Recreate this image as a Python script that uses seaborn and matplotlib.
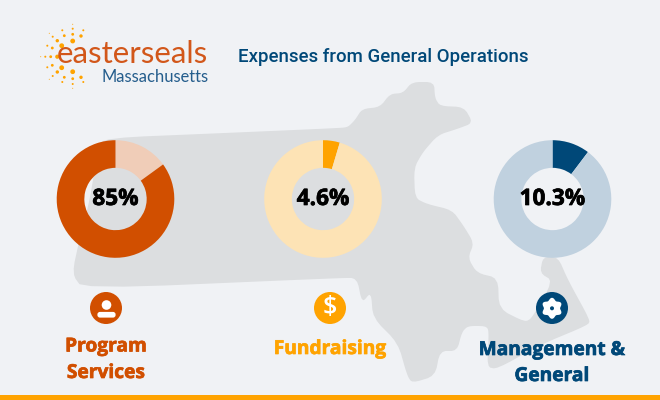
import matplotlib
matplotlib.use('Agg')
import matplotlib.pyplot as plt
import matplotlib.patheffects as pe
from matplotlib.patches import Circle, FancyBboxPatch, Polygon, Rectangle
import numpy as np
import seaborn as sns

W, H = 660, 400

# Chart values
categories = [['Program', 'Services'], ['Fundraising'], ['Management &', 'General']]
shares = [85, 4.6, 10.3]
share_labels = ['85%', '4.6%', '10.3%']

ORANGE_RED = '#d14f00'
AMBER = '#ffa300'
NAVY = '#004878'
BG = '#f0f2f5'

sns.set_theme(style='white')
plt.rcParams['font.family'] = ['Open Sans', 'DejaVu Sans']

main_colors = [ORANGE_RED, AMBER, NAVY]
light_colors = ['#f0cdb8', '#fde3b5', '#c0d1df']
donut_x = [115.5, 323, 552.5]
label_x = [106, 330, 552]

# Massachusetts outline, pixels
map_outline = [
    (105, 138), (225, 133), (340, 128), (348, 127), (355, 120), (362, 109), (380, 107),
    (390, 94), (403, 93), (412, 82), (434, 82), (435, 98), (440, 106), (464, 107),
    (473, 123), (457, 129), (438, 135), (423, 152), (414, 168), (415, 198), (427, 204),
    (452, 210), (463, 225), (474, 243), (468, 258), (477, 273), (498, 278), (499, 309),
    (525, 322), (532, 318), (553, 281), (540, 273), (543, 257), (558, 257), (568, 280),
    (590, 320), (588, 325), (540, 345), (497, 369), (487, 367), (489, 330), (485, 326),
    (468, 326), (462, 332), (457, 351), (440, 351), (435, 376), (412, 383), (407, 375),
    (398, 343), (373, 318), (371, 292), (362, 303), (357, 278), (340, 278), (83, 289),
    (72, 274), (80, 237), (90, 199), (98, 148),
]

# Logo sun dots, pixels: x, y, radius
sun_dots = [
    (72.7, 41, 2.4), (72.7, 34.3, 1.4), (72.7, 28.7, 1), (72.7, 24.3, .5),
    (61.7, 45.7, 2.4), (57.3, 40.7, 1.7), (52.7, 36.7, 1), (49.3, 33.3, .5),
    (64.3, 35.7, 1.4), (62.3, 30.3, 1), (81, 36, 1.7), (83.3, 30.3, 1),
    (57.3, 56.7, 2.1), (50.7, 56.7, 1.4), (45.3, 56.7, 1), (40.7, 56.7, .5),
    (52.3, 48, 1.4), (47.3, 45.7, 1), (61.7, 67.7, 2.4), (57.3, 72, 1.7),
    (52.3, 65.3, 1.4), (47.3, 67.3, 1), (52.7, 76, 1), (49.3, 79.3, .5),
    (72.7, 71.7, 2.4), (72.7, 78.7, 1.4), (72.7, 84, 1), (72.7, 88.3, .5),
    (64.3, 77.3, 1.4), (62.3, 82, 1), (81, 77.3, 1.7), (83.3, 82, 1),
]


def round_corners(points, passes=2):
    # corner cutting, the real outline has no sharp corners
    pts = np.array(points, dtype=float)
    for _ in range(passes):
        nxt = np.roll(pts, -1, axis=0)
        pts = np.column_stack([0.8 * pts + 0.2 * nxt, 0.2 * pts + 0.8 * nxt]).reshape(-1, 2)
    return pts


def heavy(col, width):
    return [pe.withStroke(linewidth=width, foreground=col)]


fig = plt.figure(figsize=(W / 100, H / 100), dpi=100, facecolor=BG)

# Full-figure canvas in pixel units for the decoration
bg = fig.add_axes([0, 0, 1, 1])
bg.set_xlim(0, W)
bg.set_ylim(H, 0)
bg.axis('off')
bg.add_patch(Polygon(round_corners(map_outline), closed=True, facecolor='#dcdee0', edgecolor='none'))
bg.add_patch(Rectangle((0, 395), W, 5, facecolor=AMBER, edgecolor='none'))

# Logo
for x, y, r in sun_dots:
    bg.add_patch(Circle((x, y), r, facecolor=AMBER, edgecolor='none'))
bg.text(208.5, 54, 'easterseals', family='Lato', fontsize=22.5, color='#d2571a',
        ha='right', va='center', zorder=2)
bg.text(208.5, 76.5, 'Massachusetts', family='Lato', fontsize=11.9, color='#245d8c',
        ha='right', va='center')

bg.text(238, 57.5, 'Expenses from General Operations', family='Roboto', weight='medium',
        fontsize=13.45, color=NAVY, ha='left', va='center')

# Donuts
R = 58.8
for cx, share, label, dark, light in zip(donut_x, shares, share_labels, main_colors, light_colors):
    ax = fig.add_axes([(cx - R) / W, 1 - (199 + R) / H, 2 * R / W, 2 * R / H])
    # the first donut has its small slice in the light colour
    if share > 50:
        sizes, cols = [100 - share, share], [light, dark]
    else:
        sizes, cols = [share, 100 - share], [dark, light]
    ax.pie(sizes, colors=cols, startangle=90, counterclock=False, radius=1,
           wedgeprops={'width': 0.47, 'linewidth': 0})
    ax.set_xlim(-1, 1)
    ax.set_ylim(-1, 1)
    ax.text(0, 0, label, fontsize=16.3, weight='bold', color='black', ha='center', va='center',
            path_effects=heavy('black', 0.5))

# Icons
for x, col in zip(label_x, main_colors):
    bg.add_patch(Circle((x, 308), 16, facecolor=col, edgecolor='none', zorder=3))

bg.add_patch(Circle((106.5, 305), 4.8, facecolor='white', edgecolor='none', zorder=4))
bg.add_patch(FancyBboxPatch((100, 314.5), 13, 0.5, boxstyle='round,pad=2.6', facecolor='white',
                            edgecolor='none', zorder=4))
bg.text(330, 307.5, '$', fontsize=18, weight='semibold', color='white', ha='center', va='center', zorder=4)

# Gear
t = np.linspace(0, 2 * np.pi, 120)
gear_r = 9.3 + 1.2 * np.cos(6 * t)
bg.add_patch(Polygon(np.column_stack([552 + gear_r * np.sin(t), 308.3 - gear_r * np.cos(t)]),
                     closed=True, facecolor='white', edgecolor='none', zorder=4))
bg.add_patch(Circle((552, 308.3), 2, facecolor=NAVY, edgecolor='none', zorder=5))

# Category labels
label_y = [[346.5, 373], [349], [350, 376]]
for x, ys, names, col in zip(label_x, label_y, categories, main_colors):
    for y, name in zip(ys, names):
        bg.text(x, y, name, fontsize=13.8, weight='bold', color=col, ha='center', va='center',
                zorder=4, path_effects=heavy(col, 0.5))

fig.savefig('out.png', dpi=100, facecolor=BG)
